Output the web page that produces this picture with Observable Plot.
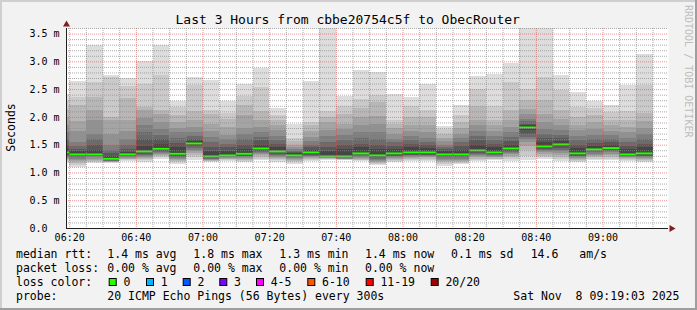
<!DOCTYPE html>
<html><head><meta charset="utf-8">
<script src="https://cdn.jsdelivr.net/npm/d3@7"></script>
<script src="https://cdn.jsdelivr.net/npm/@observablehq/plot@0.6"></script>
<style>
html,body{margin:0;padding:0;background:#f2f2f2;}
#chart{width:697px;height:310px;}
</style></head><body><div id="chart"></div>
<script>
// ---- data ----
const barEnd = ["06:20","06:25","06:30","06:35","06:40","06:45","06:50","06:55","07:00","07:05","07:10","07:15",
  "07:20","07:25","07:30","07:35","07:40","07:45","07:50","07:55","08:00","08:05","08:10","08:15",
  "08:20","08:25","08:30","08:35","08:40","08:45","08:50","08:55","09:00","09:05","09:10","09:15"];
const medianRtt = [1.37,1.334,1.334,1.256,1.334,1.388,1.436,1.346,1.531,1.298,1.316,1.346,1.441,1.388,1.316,1.37,
  1.298,1.298,1.352,1.316,1.352,1.37,1.37,1.334,1.334,1.406,1.37,1.441,1.819,1.477,1.513,1.352,1.423,1.447,1.334,1.352];
// 20 sorted ping rtts (ms) per 5-minute step
const pings = [
 [1.17,1.2,1.22,1.24,1.26,1.28,1.3,1.32,1.34,1.36,1.38,1.43,1.5,1.6,1.72,1.85,2.0,2.15,2.3,2.42],
 [1.10,1.14,1.17,1.2,1.23,1.25,1.27,1.29,1.31,1.325,1.345,1.38,1.42,1.47,1.55,1.75,1.92,2.22,2.36,2.64],
 [1.17,1.19,1.21,1.23,1.25,1.27,1.29,1.3,1.31,1.325,1.345,1.4,1.5,1.6,1.7,1.94,2.12,2.35,2.62,3.30],
 [1.17,1.18,1.185,1.19,1.2,1.205,1.215,1.225,1.235,1.245,1.27,1.3,1.35,1.4,1.5,1.7,1.95,2.0,2.71,2.75],
 [1.21,1.23,1.24,1.25,1.26,1.27,1.29,1.3,1.31,1.33,1.34,1.37,1.42,1.5,1.6,1.75,1.95,2.34,2.55,2.70],
 [1.19,1.22,1.24,1.26,1.28,1.3,1.32,1.34,1.36,1.38,1.4,1.48,1.6,1.72,1.85,1.98,2.12,2.18,2.6,3.0],
 [1.24,1.27,1.29,1.31,1.33,1.35,1.37,1.39,1.41,1.43,1.45,1.52,1.6,1.68,1.78,1.9,2.05,2.12,2.75,3.30],
 [1.15,1.18,1.2,1.22,1.24,1.26,1.28,1.3,1.32,1.335,1.36,1.45,1.53,1.62,1.72,1.8,1.9,2.03,2.17,2.29],
 [1.22,1.27,1.31,1.35,1.38,1.41,1.44,1.47,1.5,1.52,1.54,1.56,1.6,1.65,1.72,1.82,1.95,2.1,2.57,2.71],
 [1.18,1.2,1.21,1.22,1.23,1.24,1.25,1.26,1.27,1.29,1.31,1.38,1.46,1.55,1.64,1.75,1.88,2.06,2.12,2.67],
 [1.21,1.23,1.24,1.25,1.26,1.27,1.28,1.29,1.3,1.31,1.325,1.38,1.45,1.52,1.6,1.68,1.82,1.97,2.07,2.29],
 [1.19,1.21,1.23,1.24,1.26,1.27,1.29,1.3,1.32,1.335,1.36,1.42,1.5,1.6,1.7,1.8,2.03,2.22,2.37,2.59],
 [1.22,1.25,1.28,1.31,1.33,1.35,1.37,1.39,1.41,1.43,1.45,1.5,1.58,1.64,1.72,1.82,1.95,2.1,2.53,2.88],
 [1.19,1.22,1.24,1.26,1.28,1.3,1.32,1.34,1.36,1.375,1.4,1.46,1.52,1.58,1.66,1.76,1.85,1.95,2.03,2.16],
 [1.15,1.18,1.2,1.22,1.24,1.26,1.27,1.28,1.29,1.305,1.33,1.35,1.37,1.39,1.42,1.46,1.5,1.56,1.62,1.87],
 [1.21,1.23,1.24,1.26,1.27,1.29,1.3,1.32,1.34,1.36,1.38,1.41,1.45,1.5,1.56,1.64,1.75,1.85,1.9,2.64],
 [1.23,1.24,1.25,1.255,1.26,1.265,1.27,1.275,1.28,1.29,1.31,1.38,1.45,1.55,1.65,1.76,1.9,2.0,2.1,3.65],
 [1.22,1.23,1.235,1.24,1.245,1.25,1.26,1.27,1.28,1.29,1.31,1.42,1.5,1.58,1.68,1.78,1.88,2.05,2.19,2.38],
 [1.2,1.22,1.23,1.25,1.26,1.28,1.29,1.31,1.33,1.345,1.36,1.45,1.52,1.62,1.72,1.85,2.0,2.16,2.33,2.84],
 [1.13,1.15,1.17,1.19,1.21,1.23,1.25,1.27,1.28,1.3,1.33,1.42,1.5,1.6,1.72,1.88,2.02,2.27,2.4,2.80],
 [1.19,1.21,1.23,1.24,1.26,1.27,1.29,1.3,1.32,1.34,1.37,1.42,1.48,1.54,1.6,1.7,1.8,1.88,1.95,2.41],
 [1.2,1.22,1.24,1.26,1.28,1.29,1.31,1.32,1.34,1.36,1.38,1.45,1.52,1.58,1.65,1.75,1.85,2.0,2.2,2.36],
 [1.2,1.23,1.25,1.27,1.28,1.3,1.31,1.32,1.34,1.36,1.38,1.44,1.5,1.55,1.62,1.72,1.85,2.0,2.12,2.60],
 [1.12,1.15,1.18,1.21,1.23,1.25,1.27,1.29,1.31,1.325,1.345,1.38,1.42,1.46,1.5,1.56,1.62,1.7,1.78,1.84],
 [1.15,1.17,1.19,1.21,1.23,1.25,1.27,1.29,1.31,1.325,1.345,1.41,1.48,1.55,1.62,1.7,1.8,1.9,2.03,2.21],
 [1.2,1.23,1.25,1.27,1.29,1.31,1.33,1.35,1.37,1.39,1.42,1.5,1.58,1.66,1.75,1.85,1.95,2.2,2.5,2.74],
 [1.22,1.24,1.25,1.27,1.28,1.3,1.31,1.33,1.34,1.36,1.38,1.45,1.51,1.58,1.66,1.75,1.85,1.95,2.2,2.77],
 [1.2,1.24,1.27,1.3,1.33,1.35,1.37,1.39,1.41,1.43,1.45,1.5,1.57,1.64,1.72,1.82,1.95,2.12,2.63,2.97],
 [1.22,1.3,1.4,1.48,1.55,1.6,1.64,1.7,1.76,1.81,1.83,1.85,1.88,1.92,1.97,2.05,2.15,2.3,2.5,3.65],
 [1.24,1.27,1.3,1.33,1.36,1.38,1.4,1.42,1.44,1.465,1.49,1.55,1.62,1.7,1.78,1.9,2.05,2.3,2.72,3.65],
 [1.2,1.24,1.28,1.32,1.35,1.38,1.41,1.44,1.47,1.5,1.52,1.56,1.62,1.68,1.76,1.85,1.97,2.12,2.48,2.76],
 [1.19,1.21,1.23,1.24,1.26,1.27,1.29,1.3,1.32,1.34,1.37,1.44,1.5,1.58,1.66,1.76,1.86,2.0,2.18,2.45],
 [1.22,1.25,1.27,1.3,1.32,1.34,1.36,1.38,1.4,1.415,1.43,1.48,1.53,1.6,1.68,1.78,1.9,2.03,2.16,2.29],
 [1.22,1.25,1.28,1.31,1.33,1.36,1.38,1.4,1.42,1.44,1.455,1.5,1.55,1.6,1.67,1.75,1.85,1.95,2.08,2.22],
 [1.21,1.23,1.25,1.26,1.27,1.28,1.29,1.3,1.31,1.325,1.345,1.42,1.48,1.55,1.62,1.72,1.82,1.95,2.11,2.57],
 [1.19,1.21,1.23,1.24,1.26,1.27,1.29,1.3,1.32,1.34,1.37,1.45,1.52,1.6,1.7,1.8,1.92,2.07,2.57,3.14]
];
const xTickLabels = ["06:20","06:40","07:00","07:20","07:40","08:00","08:20","08:40","09:00"];
const yTickValues = [0,0.5,1,1.5,2,2.5,3,3.5];
const lossLabels = ["0","1","2","3","4-5","6-10","11-19","20/20"];
const lossColors = ["#26ff00","#00b8ff","#0059ff","#7e00ff","#ff00ff","#ff5500","#ff0000","#a10000"];
const rttStats = ["1.4 ms avg","1.8 ms max","1.3 ms min","1.4 ms now","0.1 ms sd","14.6","am/s"];
const lossStats = ["0.00 % avg","0.00 % max","0.00 % min","0.00 % now"];
const titleText = "Last 3 Hours from cbbe20754c5f to ObecRouter";
const probeText = "20 ICMP Echo Pings (56 Bytes) every 300s";
const stampText = "Sat Nov\u00a0\u00a08 09:19:03 2025";

// ---- build ----
const day = "2025-11-08";
const toDate = s => new Date(`${day}T${s}:00Z`);
const tStart = new Date(`${day}T06:19:03Z`);
const tEnd = new Date(tStart.getTime() + 180.6 * 60000);
const smokeGray = d3.range(1, 11).map(i => { const c = Math.floor(190 / 10 * (10 - i)) + 50; return d3.rgb(c, c, c).formatHex(); });

const bars = barEnd.map((s, i) => ({x2: toDate(s), x1: new Date(toDate(s) - 300000), median: medianRtt[i], p: pings[i]}));
const smoke = [];
for (let i = 0; i < 10; i++) for (const b of bars) smoke.push({x1: b.x1, x2: b.x2, y1: b.p[i], y2: b.p[19 - i], fill: smokeGray[i], band: i});
smoke.sort((a, b) => a.band - b.band);

const minorT = d3.utcMinute.every(5).range(tStart, tEnd).filter(d => d.getUTCMinutes() % 20 !== 0);
const majorT = xTickLabels.map(toDate);
const yMinor = d3.range(1, 37).map(i => i / 10).filter(v => Math.round(v * 10) % 5 !== 0);
const yMajor = yTickValues.filter(v => v > 0);

const plot = Plot.plot({
  width: 697, height: 310,
  marginLeft: 66, marginRight: 29, marginTop: 28, marginBottom: 82,
  style: {background: "transparent", fontFamily: "DejaVu Sans Mono", fontSize: "10px", color: "#000", overflow: "visible"},
  x: {type: "utc", domain: [tStart, tEnd], label: null},
  y: {domain: [0, 3.6], label: null},
  color: {type: "identity"},
  marks: [
    Plot.frame({fill: "#ffffff", stroke: null}),
    Plot.rect(smoke, {x1: "x1", x2: "x2", y1: "y1", y2: "y2", fill: "fill", clip: true, shapeRendering: "crispEdges"}),
    Plot.ruleY(bars, {y: "median", x1: "x1", x2: "x2", stroke: lossColors[0], strokeWidth: 2, clip: true}),
    Plot.ruleY(yMinor, {stroke: "rgba(143,143,143,0.75)", strokeDasharray: "1,1"}),
    Plot.ruleX(minorT, {stroke: "rgba(143,143,143,0.75)", strokeDasharray: "1,1"}),
    Plot.ruleY(yMajor, {stroke: "rgba(222,79,79,0.6)", strokeDasharray: "1,1"}),
    Plot.ruleX(majorT, {stroke: "rgba(222,79,79,0.6)", strokeDasharray: "1,1"}),
    Plot.ruleY([0], {stroke: "#1f1f1f"}),
    Plot.ruleX([tStart], {stroke: "#1f1f1f", y1: 0, y2: 3.6}),
    Plot.dot([tStart], {x: d => d, y: () => 3.6, dy: -4, symbol: "triangle", r: 2.6, fill: "#801f1f", stroke: null}),
    Plot.dot([tEnd], {x: d => d, y: () => 0, dx: 3, symbol: "triangle", rotate: 90, r: 2.6, fill: "#801f1f", stroke: null}),
    Plot.axisX(majorT, {tickFormat: d3.utcFormat("%H:%M"), tickSize: 0, tickPadding: 5, fill: "#000"}),
    Plot.axisY(yTickValues, {tickFormat: d => d === 0 ? "0.0" : d.toFixed(1) + " m", tickSize: 0, tickPadding: 37, textAnchor: "start", fill: "#000"})
  ]
});
document.getElementById("chart").appendChild(plot);

// ---- frame, titles, legend (real text) ----
const svg = d3.select(plot);
const bg = svg.insert("g", ":first-child");
bg.append("rect").attr("x", 0).attr("y", 0).attr("width", 697).attr("height", 310).attr("fill", "#f2f2f2");
bg.append("path").attr("d", "M0,0H697V2H2V310H0Z").attr("fill", "#cfcfcf");
bg.append("path").attr("d", "M697,0V310H0V308H695V0Z").attr("fill", "#9e9e9e");

const txt = (x, y, s, size, opts = {}) => svg.append("text").attr("x", x).attr("y", y)
  .attr("font-family", "DejaVu Sans Mono").attr("font-size", size).attr("fill", opts.fill || "#000")
  .attr("text-anchor", opts.anchor || "start").attr("transform", opts.transform || null)
  .style("white-space", "pre").text(s);

txt(347.7, 24, titleText, "13px", {anchor: "middle"});
txt(0, 0, "Seconds", "11.5px", {anchor: "middle", transform: "translate(15,127.5) rotate(-90)"});
txt(0, 0, "RRDTOOL / TOBI OETIKER", "10px", {fill: "#bdbdbd", transform: "translate(684.5,5) rotate(90)"});

const colX = [107.3, 193.3, 279.3, 365, 451, 530.7, 579.3];
const rows = [258, 271.8, 285.6, 299.5];
txt(16, rows[0], "median rtt:", "11.5px");
rttStats.forEach((s, i) => txt(colX[i], rows[0], s, "11.5px"));
txt(16, rows[1], "packet loss:", "11.5px");
lossStats.forEach((s, i) => txt(colX[i], rows[1], s, "11.5px"));
txt(16, rows[2], "loss color:", "11.5px");
const boxX = [108.7, 146, 182.7, 219.3, 256, 307.3, 365.7, 430.7];
lossLabels.forEach((s, i) => {
  svg.append("rect").attr("x", boxX[i] + 0.5).attr("y", 278.5).attr("width", 7).attr("height", 7)
    .attr("fill", lossColors[i]).attr("stroke", "#000").attr("stroke-width", 1);
  txt(boxX[i] + 14.7, rows[2], s, "11.5px");
});
txt(16, rows[3], "probe:", "11.5px");
txt(107.3, rows[3], probeText, "11.5px");
txt(513.3, rows[3], stampText, "11.5px");
</script></body></html>
